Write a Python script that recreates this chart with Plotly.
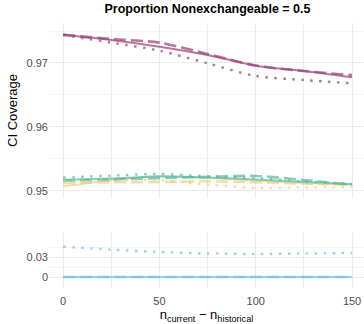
import plotly.graph_objects as go

x = [0, 25, 50, 75, 100, 125, 150]

# Top panel: CI coverage
purple_solid = [0.97440, 0.97360, 0.97255, 0.97125, 0.96958, 0.96875, 0.96777]
purple_dash = [0.97440, 0.97375, 0.97318, 0.97140, 0.96960, 0.96875, 0.96810]
purple_dot = [0.97440, 0.97318, 0.97193, 0.96995, 0.96797, 0.96734, 0.96682]

teal_solid = [0.95175, 0.95195, 0.95225, 0.95210, 0.95180, 0.95140, 0.95105]
teal_dash = [0.95160, 0.95180, 0.95200, 0.95220, 0.95235, 0.95170, 0.95100]
teal_dot = [0.95210, 0.95240, 0.95265, 0.95230, 0.95200, 0.95150, 0.95110]

yellow_solid = [0.95070, 0.95170, 0.95235, 0.95205, 0.95160, 0.95125, 0.95100]
yellow_dash = [0.95120, 0.95135, 0.95140, 0.95150, 0.95135, 0.95115, 0.95095]
yellow_dot = [0.95150, 0.95165, 0.95170, 0.95100, 0.95050, 0.95055, 0.95060]

# Bottom panel
blue_solid = [0, 0, 0, 0, 0, 0, 0]
blue_dash = [0, 0, 0, 0, 0, 0, 0]
blue_dot = [0.0455, 0.0410, 0.0375, 0.0355, 0.0345, 0.0352, 0.0360]

PURPLE = "rgba(158,74,124,0.75)"
TEAL = "rgba(85,185,165,0.7)"
YELLOW = "rgba(232,200,110,0.6)"
BLUE = "rgba(120,195,235,0.75)"

DASH = "12px,5px"
DOT = "2.5px,6.5px"

fig = go.Figure()

def add(y, color, dash, width, yaxis):
    fig.add_trace(go.Scatter(
        x=x, y=y, mode="lines",
        line=dict(color=color, dash=dash, width=width, shape="spline", smoothing=0.8),
        xaxis="x" if yaxis == "y" else "x2", yaxis=yaxis,
        showlegend=False, hoverinfo="skip"))

for (vals, col) in [(yellow_solid, YELLOW), (teal_solid, TEAL), (purple_solid, PURPLE)]:
    add(vals, col, "solid", 2, "y")
for (vals, col) in [(yellow_dash, YELLOW), (teal_dash, TEAL), (purple_dash, PURPLE)]:
    add(vals, col, DASH, 2.6, "y")
for (vals, col) in [(yellow_dot, YELLOW), (teal_dot, TEAL), (purple_dot, PURPLE)]:
    add(vals, col, DOT, 2.5, "y")

add(blue_solid, BLUE, "solid", 2, "y2")
add(blue_dash, BLUE, DASH, 2.6, "y2")
add(blue_dot, BLUE, DOT, 2.5, "y2")

GRID = "#ebebeb"
MINOR = "#f3f3f3"
TICKFONT = dict(family="Liberation Sans, Arial, sans-serif", size=11, color="#4d4d4d")

xcommon = dict(range=[-7.3, 156.2], showgrid=True, gridcolor=GRID, gridwidth=1,
               minor=dict(showgrid=True, gridcolor=GRID, gridwidth=1, dtick=25),
               tickvals=[0, 50, 100, 150], zeroline=False, showline=False,
               ticks="", tickfont=TICKFONT)

fig.update_layout(
    width=364, height=324,
    margin=dict(l=49, r=0, t=23, b=36),
    plot_bgcolor="white", paper_bgcolor="white",
    title=dict(text="<b>Proportion Nonexchangeable = 0.5</b>", x=0.57, xanchor="center",
               y=0.972, yanchor="middle",
               font=dict(family="Liberation Sans, Arial, sans-serif", size=12.5, color="black")),
    xaxis=dict(**xcommon, domain=[0, 1], anchor="y", showticklabels=False),
    xaxis2=dict(**xcommon, domain=[0, 1], anchor="y2", ticklabelstandoff=5,
                title=dict(text="n<sub>current</sub> \u2212 n<sub>historical</sub>",
                           font=dict(family="Liberation Sans, Arial, sans-serif", size=13, color="black"),
                           standoff=0)),
    yaxis=dict(domain=[0.3396, 1], range=[0.94890, 0.97625],
               tickvals=[0.95, 0.96, 0.97], ticktext=["0.95", "0.96", "0.97"],
               showgrid=True, gridcolor=GRID, gridwidth=1,
               minor=dict(showgrid=True, gridcolor=MINOR, gridwidth=1, tickvals=[0.955, 0.965, 0.975]),
               zeroline=False, ticks="", tickfont=TICKFONT,
               title=dict(text="CI Coverage",
                          font=dict(family="Liberation Sans, Arial, sans-serif", size=13, color="black"),
                          standoff=6)),
    yaxis2=dict(domain=[0, 0.2075], range=[-0.0165, 0.066],
                tickvals=[0, 0.03], ticktext=["0", "0.03"],
                showgrid=True, gridcolor=GRID, gridwidth=1,
                minor=dict(showgrid=True, gridcolor=MINOR, gridwidth=1, tickvals=[0.015, 0.045]),
                zeroline=False, ticks="", tickfont=TICKFONT),
)

fig.write_html("out.html")
